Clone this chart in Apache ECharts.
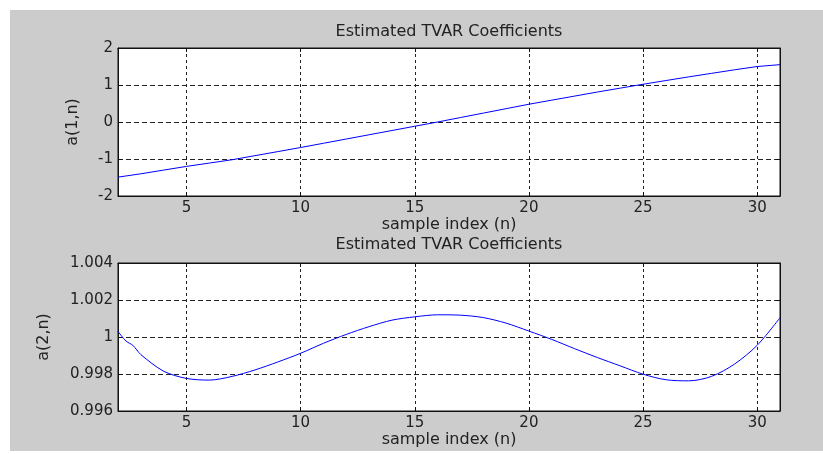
<!DOCTYPE html>
<html><head><meta charset="utf-8">
<script src="https://cdn.jsdelivr.net/npm/echarts@6/dist/echarts.min.js"></script>
<style>html,body{margin:0;padding:0;background:#fff}#c{width:823px;height:454px}</style>
</head><body><div id="c"></div>
<script>
// ---- data ----
const titleText = 'Estimated TVAR Coefficients';
const xName = 'sample index (n)';
const yName1 = 'a(1,n)';
const yName2 = 'a(2,n)';
const xTicks = [5, 10, 15, 20, 25, 30];

const n1 = [2,3,4,5,6,7,8,9,10,11,12,13,14,15,16,17,18,19,20,21,22,23,24,25,26,27,28,29,30,31];
const a1 = [-1.49,-1.40,-1.30,-1.20,-1.11,-1.02,-0.91,-0.80,-0.69,-0.575,-0.46,-0.345,-0.23,-0.115,0.0,0.12,0.24,0.36,0.48,0.59,0.70,0.81,0.915,1.02,1.12,1.22,1.315,1.41,1.50,1.55];

const n2 = [2,2.35,2.65,3,4,5,6,7,8,9,10,11,12,13,14,15,16,17,18,19,20,21,22,23,24,25,26,27,28,29,30,31];
const a2 = [1.0003,0.99978,0.99955,0.99905,0.99815,0.99776,0.99767,0.99787,0.99822,0.99865,0.99912,0.99966,1.00014,1.00056,1.00091,1.00109,1.0012,1.00118,1.00105,1.00075,1.00032,0.99987,0.99937,0.99889,0.99844,0.99799,0.99769,0.99763,0.99787,0.99853,0.99955,1.00104];

// ---- chart ----
const font = 'DejaVu Sans, Liberation Sans, sans-serif';
const txt = {color: '#222', fontFamily: font, fontSize: 15};
const nameTxt = {color: '#222', fontFamily: font, fontSize: 16};
const grids = [
  {left: 118, top: 48, width: 662, height: 148},
  {left: 118, top: 263, width: 662, height: 148}
];
function xAx(gi, main) {
  return {
    type: 'value', gridIndex: gi, min: 2, max: 31, position: main ? 'bottom' : 'top',
    name: main ? xName : '', nameLocation: 'middle', nameGap: 19, nameTextStyle: nameTxt,
    axisLine: {show: true, onZero: false, lineStyle: {color: '#111', width: 1}},
    axisTick: {show: true, inside: true, length: 4, customValues: xTicks, lineStyle: {color: '#111'}},
    axisLabel: {show: main, customValues: xTicks, margin: 5, ...txt},
    splitLine: {show: main, lineStyle: {color: '#222', type: [3, 3], width: 1}}
  };
}
function yAx(gi, main, min, max, interval, name, gap) {
  return {
    type: 'value', gridIndex: gi, min: min, max: max, interval: interval, position: main ? 'left' : 'right',
    name: main ? name : '', nameLocation: 'middle', nameGap: gap, nameRotate: 90, nameTextStyle: nameTxt,
    axisLine: {show: true, onZero: false, lineStyle: {color: '#111', width: 1}},
    axisTick: {show: true, inside: true, length: 4, lineStyle: {color: '#111'}},
    axisLabel: {show: main, margin: 5, ...txt},
    splitLine: {show: main, lineStyle: {color: '#222', type: [5, 3], width: 1}}
  };
}
const chart = echarts.init(document.getElementById('c'), null, {renderer: 'canvas'});
chart.setOption({
  backgroundColor: '#fff',
  animation: false,
  graphic: [{type: 'rect', z: -100, silent: true, shape: {x: 10, y: 10, width: 813, height: 441}, style: {fill: '#cccccc'}}],
  title: [
    {text: titleText, left: 449, top: 24, textAlign: 'center', padding: 0, textStyle: {...nameTxt, fontWeight: 'normal'}},
    {text: titleText, left: 449, top: 237, textAlign: 'center', padding: 0, textStyle: {...nameTxt, fontWeight: 'normal'}}
  ],
  grid: grids.map(g => ({...g, show: true, backgroundColor: '#fff', borderColor: '#111', borderWidth: 1})),
  xAxis: [xAx(0, true), xAx(0, false), xAx(1, true), xAx(1, false)],
  yAxis: [
    yAx(0, true, -2, 2, 1, yName1, 37), yAx(0, false, -2, 2, 1, '', 0),
    yAx(1, true, 0.996, 1.004, 0.002, yName2, 66), yAx(1, false, 0.996, 1.004, 0.002, '', 0)
  ],
  series: [
    {type: 'line', xAxisIndex: 0, yAxisIndex: 0, data: n1.map((n, i) => [n, a1[i]]), showSymbol: false, lineStyle: {color: '#0000ff', width: 1}},
    {type: 'line', xAxisIndex: 2, yAxisIndex: 2, data: n2.map((n, i) => [n, a2[i]]), showSymbol: false, smooth: 0.3, lineStyle: {color: '#0000ff', width: 1}}
  ]
});
</script>
</body></html>
